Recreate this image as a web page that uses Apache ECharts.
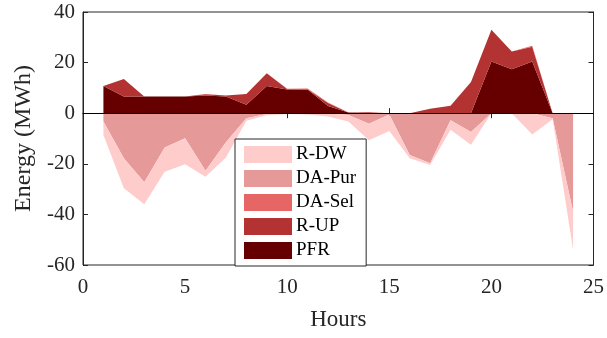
<!DOCTYPE html>
<html>
<head>
<meta charset="utf-8">
<script src="https://cdn.jsdelivr.net/npm/echarts@6/dist/echarts.min.js"></script>
<style>
  html, body { margin: 0; padding: 0; background: #fff; }
  #chart { width: 607px; height: 338px; }
</style>
</head>
<body>
<div id="chart"></div>
<script>
// Axis runs 0..25, data only exists for hours 1..24
const axisHours = [0, 1, 2, 3, 4, 5, 6, 7, 8, 9, 10, 11, 12, 13, 14, 15, 16, 17, 18, 19, 20, 21, 22, 23, 24, 25];
const hours = [1, 2, 3, 4, 5, 6, 7, 8, 9, 10, 11, 12, 13, 14, 15, 16, 17, 18, 19, 20, 21, 22, 23, 24];

// Positive side (stacked from zero upward)
const pfr = [10.8, 6.6, 6.6, 6.6, 6.6, 7.0, 6.6, 3.3, 10.8, 9.4, 9.4, 2.8, 0.3, 0, 0, 0, 0, 0, 0, 20.4, 17.4, 20.4, 0, 0];
const rUp = [0, 6.9, 0, 0, 0, 0.5, 0.4, 4.3, 5.0, 0.2, 0.1, 1.2, 0, 0.4, 0, 0, 1.8, 2.9, 12.3, 12.6, 7.0, 5.9, 0, 0];
const daSel = [0, 0, 0, 0, 0, 0.1, 0, 0, 0, 0.1, 0.3, 0.2, 0, 0, 0, 0, 0, 0, 0, 0, 0, 0.4, 0, 0];

// Negative side (stacked from zero downward)
const daPur = [-3.3, -17.8, -27.3, -13.6, -9.9, -22.7, -11.5, -2.0, -0.3, 0, 0, 0, -0.7, -4.2, -0.5, -16.5, -19.8, -2.8, -7.4, 0, 0, 0, -2.0, -39.0];
const rDw = [-5.3, -11.9, -8.7, -9.5, -10.3, -2.4, -6.0, -1.0, -0.5, -0.3, -0.5, -1.3, -2.6, -6.5, -6.5, -1.3, -0.7, -3.7, -5.1, 0, 0, -8.4, -0.4, -15.0];

const legendNames = ["R-DW", "DA-Pur", "DA-Sel", "R-UP", "PFR"];
const yTicks = [-60, 40, 20]; // min, max, interval

const colors = {
  "R-DW": "#ffcccc",
  "DA-Pur": "#e69999",
  "DA-Sel": "#e66666",
  "R-UP": "#b33333",
  "PFR": "#660000",
};

const axisColor = "#262626";
const font = "'Liberation Serif', 'DejaVu Serif', serif";

// map values onto the 0..25 category axis, blank outside 1..24
const onAxis = (vals) =>
  axisHours.map((h) => {
    const i = hours.indexOf(h);
    return i < 0 ? "-" : vals[i];
  });

function areaSeries(name, vals, stack) {
  return {
    name: name,
    type: "line",
    stack: stack,
    data: onAxis(vals),
    symbol: "none",
    lineStyle: { width: 0 },
    areaStyle: { color: colors[name], opacity: 1 },
    itemStyle: { color: colors[name] },
    emphasis: { disabled: true },
  };
}

const series = [
  areaSeries("PFR", pfr, "pos"),
  areaSeries("R-UP", rUp, "pos"),
  areaSeries("DA-Sel", daSel, "pos"),
  areaSeries("DA-Pur", daPur, "neg"),
  areaSeries("R-DW", rDw, "neg"),
];

// zero baseline across the full axis
series[4].markLine = {
  silent: true,
  symbol: "none",
  label: { show: false },
  lineStyle: { color: "#000", width: 1, type: "solid" },
  data: [{ yAxis: 0 }],
};

const chart = echarts.init(document.getElementById("chart"), null, { renderer: "canvas" });

const baseAxis = {
  axisLine: { show: true, lineStyle: { color: axisColor, width: 1 } },
  axisTick: { show: true, inside: true, length: 5, lineStyle: { color: axisColor } },
  splitLine: { show: false },
};

const catAxis = {
  ...baseAxis,
  type: "category",
  data: axisHours,
  boundaryGap: false,
  axisTick: { ...baseAxis.axisTick, interval: 4 },
};

chart.setOption({
  animation: false,
  textStyle: { fontFamily: font },
  grid: {
    left: 83, right: 12, top: 12, bottom: 73,
    show: true, borderColor: axisColor, borderWidth: 1, backgroundColor: "transparent",
  },
  legend: {
    data: legendNames,
    orient: "vertical",
    left: 235,
    top: 139,
    icon: "rect",
    itemWidth: 48,
    itemHeight: 17,
    itemGap: 5,
    padding: [6, 10, 6, 9],
    backgroundColor: "#fff",
    borderColor: axisColor,
    borderWidth: 1,
    borderRadius: 0,
    selectedMode: false,
    textStyle: { fontFamily: font, fontSize: 19, color: "#000", padding: [0, 0, 0, -1] },
  },
  xAxis: [
    {
      ...catAxis,
      name: "Hours",
      nameLocation: "middle",
      nameGap: 43,
      nameTextStyle: { fontFamily: font, fontSize: 23, color: axisColor },
      axisLabel: { interval: 4, fontFamily: font, fontSize: 21, color: axisColor, margin: 12 },
    },
    {
      ...catAxis,
      position: "top",
      axisLabel: { show: false },
    },
  ],
  yAxis: [
    {
      ...baseAxis,
      type: "value",
      min: yTicks[0],
      max: yTicks[1],
      interval: yTicks[2],
      name: "Energy (MWh)",
      nameLocation: "middle",
      nameGap: 40,
      nameTextStyle: { fontFamily: font, fontSize: 24, color: axisColor },
      axisLabel: { fontFamily: font, fontSize: 21, color: axisColor, margin: 8 },
    },
    {
      ...baseAxis,
      type: "value",
      position: "right",
      min: yTicks[0],
      max: yTicks[1],
      interval: yTicks[2],
      axisLabel: { show: false },
    },
  ],
  series: series,
});
</script>
</body>
</html>
